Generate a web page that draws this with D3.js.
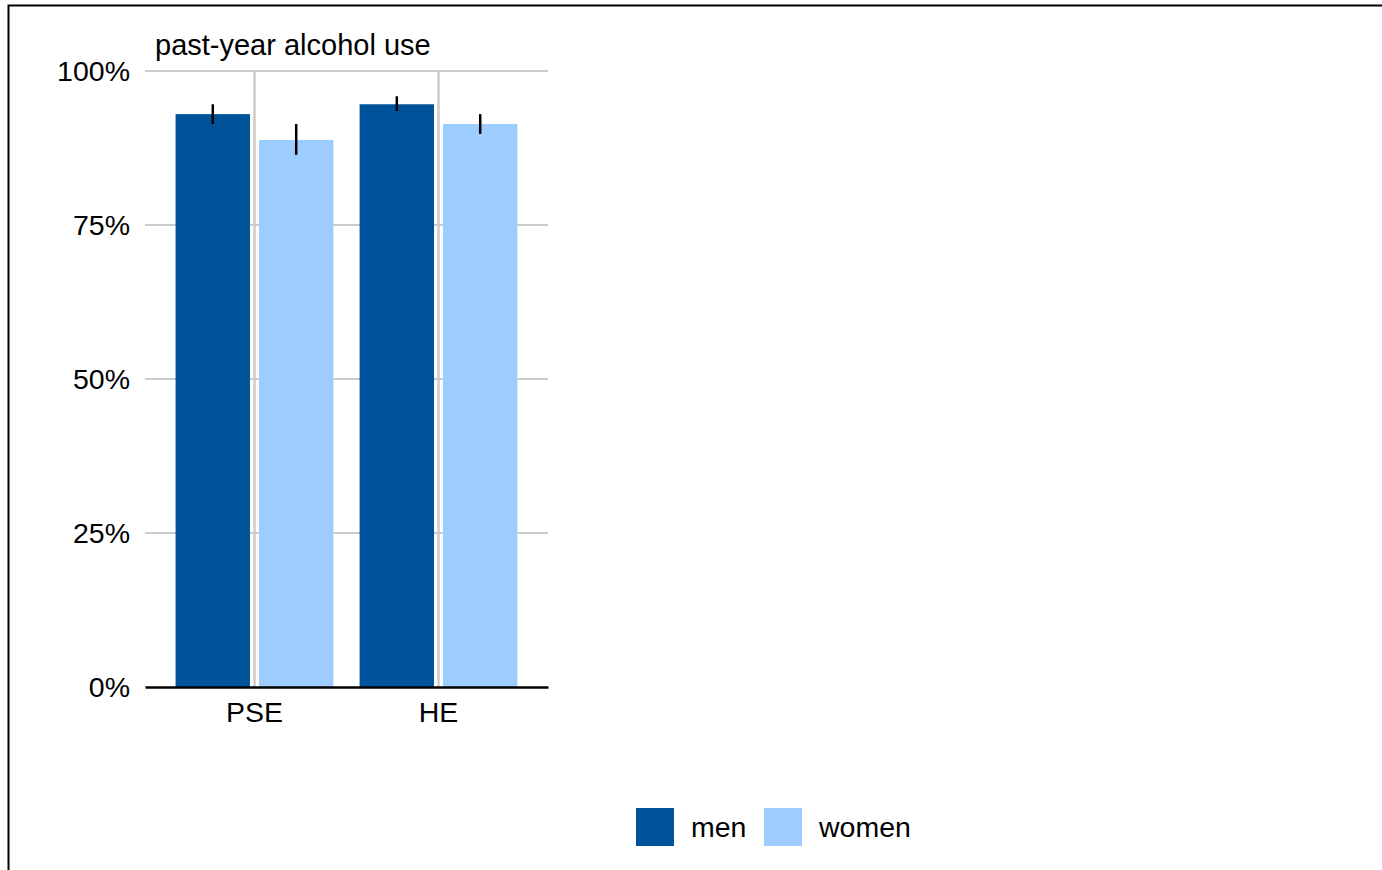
<!DOCTYPE html>
<html lang="en">
<head>
<meta charset="utf-8">
<title>past-year alcohol use</title>
<script src="https://d3js.org/d3.v7.min.js"></script>
<style>
  body { margin: 0; background: #fff; }
  svg text { font-family: "Liberation Sans", Arial, sans-serif; fill: #000; }
</style>
</head>
<body>
<div id="chart"></div>
<script>
// data
const categories = ["PSE", "HE"];
const groups = ["men", "women"];
const groupColors = ["#00539a", "#9dcdff"];
const values = {
  men:   [93.0, 94.6],
  women: [88.8, 91.4]
};
const errLow = {
  men:   [91.4, 93.5],
  women: [86.4, 89.8]
};
const errHigh = {
  men:   [94.6, 95.9],
  women: [91.4, 93.0]
};
const yTicks = [0, 25, 50, 75, 100];

const W = 1382, H = 870;
const fontSize = "28.5px";
const svg = d3.select("#chart").append("svg")
  .attr("width", W).attr("height", H);

// outer frame (only left and top visible)
svg.append("rect")
  .attr("x", 8.5).attr("y", 5.5)
  .attr("width", W).attr("height", H)
  .attr("fill", "none").attr("stroke", "#000").attr("stroke-width", 2);

const plot = { left: 145, right: 548, top: 71, bottom: 687 };

const x = d3.scaleBand().domain(categories)
  .range([plot.left, plot.right]).paddingInner(0).paddingOuter(0.095);
const xg = d3.scaleBand().domain(groups)
  .range([0, x.bandwidth()]).paddingInner(0.108).paddingOuter(0.157);
const y = d3.scaleLinear().domain([0, 100]).range([plot.bottom, plot.top]);

// horizontal gridlines
svg.append("g").selectAll("line").data(yTicks.filter(d => d > 0)).join("line")
  .attr("x1", plot.left).attr("x2", plot.right)
  .attr("y1", d => y(d)).attr("y2", d => y(d))
  .attr("stroke", "#cccccc").attr("stroke-width", 2);

// vertical gridlines at category centers
svg.append("g").selectAll("line").data(categories).join("line")
  .attr("x1", d => x(d) + x.bandwidth() / 2).attr("x2", d => x(d) + x.bandwidth() / 2)
  .attr("y1", plot.top).attr("y2", plot.bottom)
  .attr("stroke", "#cccccc").attr("stroke-width", 2.5);

// bars
const rows = [];
categories.forEach((c, i) => {
  groups.forEach((g, j) => {
    rows.push({ c, g, j, v: values[g][i], lo: errLow[g][i], hi: errHigh[g][i] });
  });
});

svg.append("g").selectAll("rect").data(rows).join("rect")
  .attr("x", d => x(d.c) + xg(d.g))
  .attr("width", xg.bandwidth())
  .attr("y", d => y(d.v))
  .attr("height", d => y(0) - y(d.v))
  .attr("fill", d => groupColors[d.j]);

// error bars
svg.append("g").selectAll("line").data(rows).join("line")
  .attr("x1", d => x(d.c) + xg(d.g) + xg.bandwidth() / 2)
  .attr("x2", d => x(d.c) + xg(d.g) + xg.bandwidth() / 2)
  .attr("y1", d => y(d.hi)).attr("y2", d => y(d.lo))
  .attr("stroke", "#000").attr("stroke-width", 2.5);

// y axis labels
const yAxis = svg.append("g")
  .attr("transform", `translate(${plot.left},0)`)
  .call(d3.axisLeft(y).tickValues(yTicks).tickFormat(d => d + "%").tickSize(0).tickPadding(15));
yAxis.select(".domain").remove();
yAxis.selectAll("text").style("font-size", fontSize).attr("dy", "0.33em");

// x axis
const xAxis = svg.append("g")
  .attr("transform", `translate(0,${plot.bottom})`)
  .call(d3.axisBottom(x).tickSize(0));
xAxis.select(".domain").attr("stroke", "#000").attr("stroke-width", 2.5);
xAxis.selectAll("text").style("font-size", fontSize).attr("y", 35).attr("dy", 0);

// title
svg.append("text")
  .attr("x", 155).attr("y", 55)
  .style("font-size", "29px")
  .text("past-year alcohol use");

// legend
const legend = svg.append("g");
const legendX = [636, 764];
groups.forEach((g, j) => {
  legend.append("rect")
    .attr("x", legendX[j]).attr("y", 808)
    .attr("width", 38).attr("height", 38)
    .attr("fill", groupColors[j]);
  legend.append("text")
    .attr("x", legendX[j] + 55).attr("y", 837)
    .style("font-size", fontSize)
    .text(g);
});
</script>
</body>
</html>
